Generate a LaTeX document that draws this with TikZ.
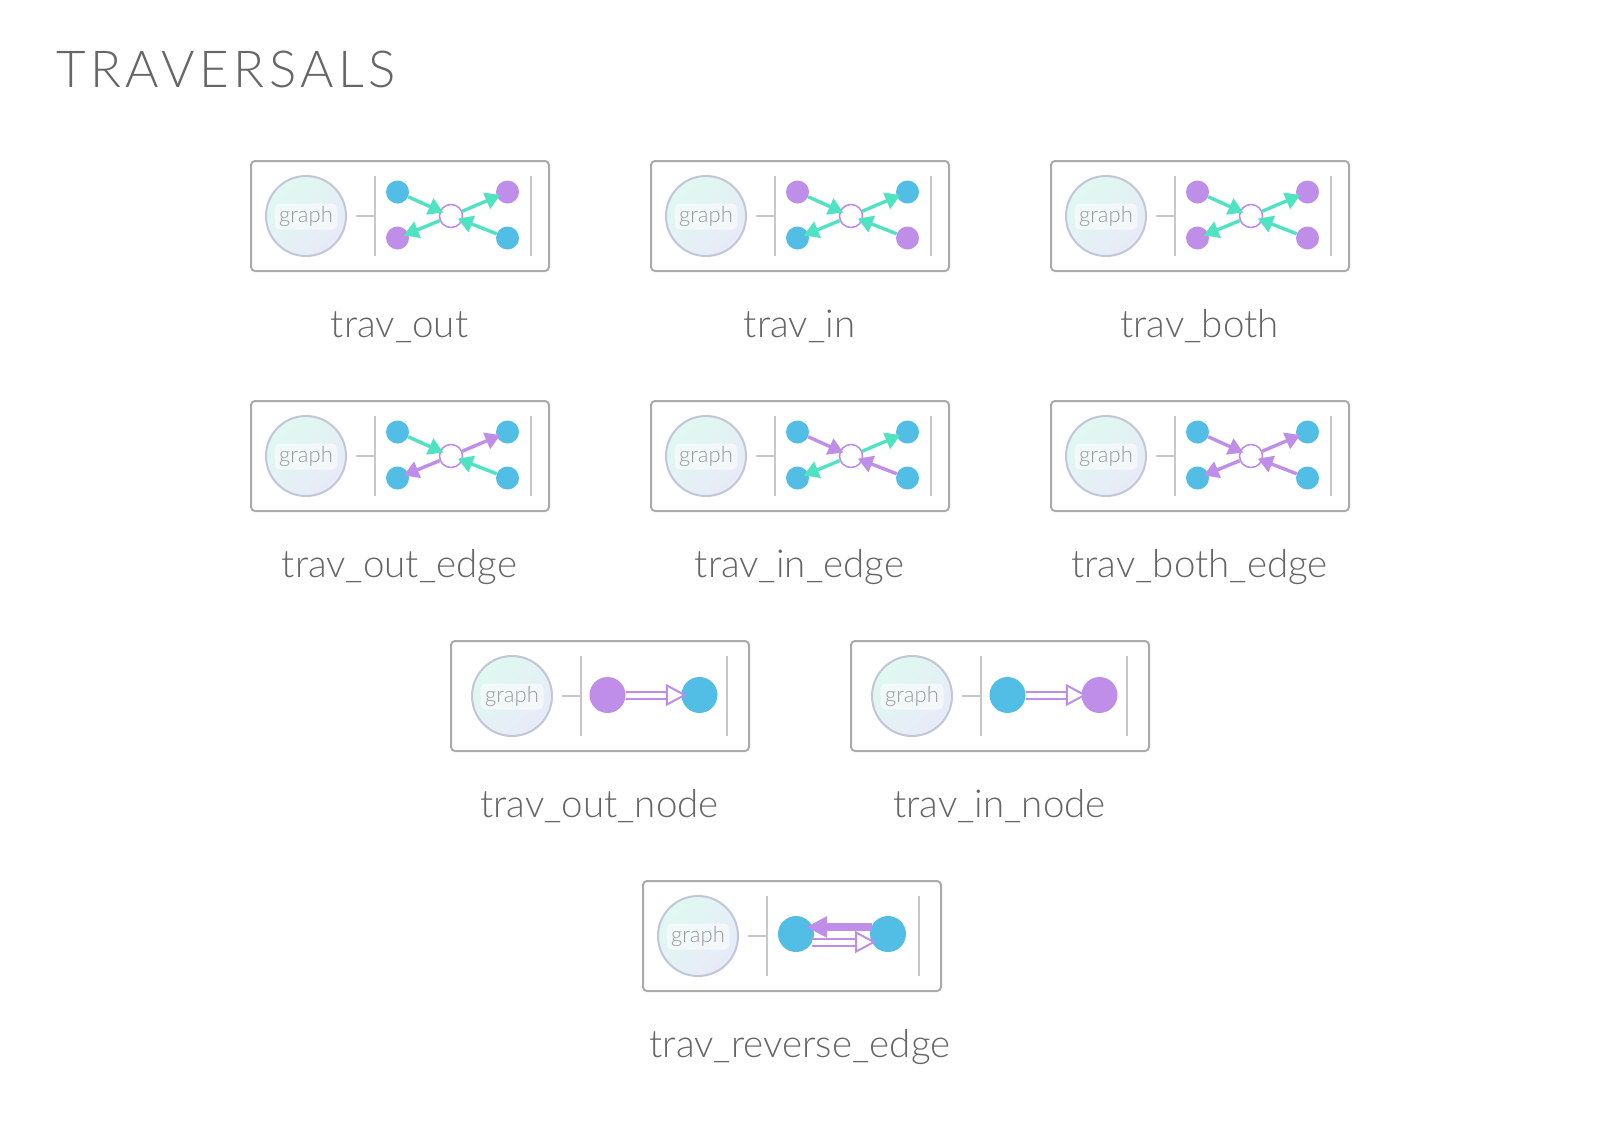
\documentclass[tikz,border=0pt]{standalone}
\usepackage{fontspec}
\setmainfont{Lato Light}
\newfontfamily\titlefont[LetterSpace=9]{Lato Light}
\usetikzlibrary{arrows.meta,calc}

\definecolor{travblue}{HTML}{52BEE5}
\definecolor{travviolet}{HTML}{BE8EE8}
\definecolor{travteal}{HTML}{50E3C2}
\definecolor{travtext}{HTML}{666666}
\definecolor{graphrim}{HTML}{C3C6D8}
\definecolor{graphmint}{HTML}{DFF9F0}
\definecolor{graphlav}{HTML}{E8EAF8}

\tikzset{
    panel/.style={draw=black!33, line width=2pt, rounded corners=4pt, minimum width=298pt, minimum height=110pt, inner sep=0pt, fill=white},
    bar/.style={draw=black!22, line width=2pt},
    graphball/.style={circle, draw=graphrim, line width=2pt, minimum size=80pt, inner sep=0pt, shade, top color=graphmint, bottom color=graphlav, shading angle=45},
    graphtag/.style={fill=white, fill opacity=0.55, text opacity=1, rounded corners=5pt, minimum width=63pt, minimum height=26pt, inner sep=0pt, text=black!40, font=\fontsize{22}{22}\selectfont},
    dot/.style={circle, fill=#1, minimum size=23pt, inner sep=0pt},
    bigdot/.style={circle, fill=#1, minimum size=36pt, inner sep=0pt},
    hub/.style={circle, draw=travviolet, fill=white, line width=1.6pt, minimum size=23pt, inner sep=0pt},
    edge/.style={draw=#1, line width=3.4pt, -{Triangle[length=15pt,width=17pt,fill=#1]}},
    hollow/.style={draw=travviolet, line width=2pt, double=white, double distance=5pt, -{Triangle[open,length=21pt,width=22pt,fill=white,line width=2pt]}},
    caption/.style={anchor=base, text=travtext, font=\fontsize{38.5}{38.5}\selectfont}
}

\begin{document}
\begin{tikzpicture}[x=1pt, y=-1pt]
\useasboundingbox (0,0) rectangle (1600,1120);

% Title
\node[anchor=base west, inner sep=0pt, text=travtext, font=\titlefont\fontsize{51}{51}\selectfont] (title) at (56,87) {TRAVERSALS};

% Panels with a crossing
\foreach \n/\px/\py/\nw/\ne/\sw/\se/\ea/\eb/\ec/\ed/\name in {
    a/251/161/travblue/travviolet/travviolet/travblue/travteal/travteal/travteal/travteal/trav\_out,
    b/651/161/travviolet/travblue/travblue/travviolet/travteal/travteal/travteal/travteal/trav\_in,
    c/1051/161/travviolet/travviolet/travviolet/travviolet/travteal/travteal/travteal/travteal/trav\_both,
    d/251/401/travblue/travblue/travblue/travblue/travteal/travviolet/travviolet/travteal/trav\_out\_edge,
    e/651/401/travblue/travblue/travblue/travblue/travviolet/travteal/travteal/travviolet/trav\_in\_edge,
    f/1051/401/travblue/travblue/travblue/travblue/travviolet/travviolet/travviolet/travviolet/trav\_both\_edge
} {
    \begin{scope}[shift={(\px,\py)}]
    \node[panel, anchor=north west] (\n box) at (-1,-1) {};
    \node[graphball] (\n ball) at (55,55) {};
    \node[graphtag] (\n tag) at (55,55.5) {graph};
    \draw[bar] (124,15) -- (124,95);
    \draw[bar] (280,15) -- (280,95);
    \draw[bar] (105,54.5) -- (124,54.5);
    \node[dot=\nw] (\n nw) at (146.5,31) {};
    \node[dot=\ne] (\n ne) at (256.5,31) {};
    \node[dot=\sw] (\n sw) at (146.5,77) {};
    \node[dot=\se] (\n se) at (256.5,77) {};
    \node[hub] (\n hub) at (200,55) {};
    \draw[edge=\ea, shorten >=-4pt] (\n nw) -- (\n hub);
    \draw[edge=\eb, shorten >=-4pt] (\n hub) -- (\n ne);
    \draw[edge=\ec, shorten >=-5pt] (\n hub) -- (\n sw);
    \draw[edge=\ed, shorten >=-5pt] (\n se) -- (\n hub);
    \node[caption] (\n cap) at (148.5,176.5) {\name};
    \end{scope}
}

% Panels with one node step
\foreach \n/\px/\ca/\cb/\name in {
    g/451/travviolet/travblue/trav\_out\_node,
    h/851/travblue/travviolet/trav\_in\_node
} {
    \begin{scope}[shift={(\px,641)}]
    \node[panel, anchor=north west] (\n box) at (-1,-1) {};
    \node[graphball] (\n ball) at (61,55) {};
    \node[graphtag] (\n tag) at (61,55.5) {graph};
    \draw[bar] (129.5,15) -- (129.5,95);
    \draw[bar] (275.5,15) -- (275.5,95);
    \draw[bar] (111,54.5) -- (129.5,54.5);
    \node[bigdot=\ca] (\n l) at (156.5,54) {};
    \node[bigdot=\cb] (\n r) at (248.5,54) {};
    \draw[hollow, shorten >=-5.5pt] (\n l) -- (\n r);
    \node[caption] (\n cap) at (148.5,176.5) {\name};
    \end{scope}
}

% Reverse edge panel
\begin{scope}[shift={(643,881)}]
    \node[panel, anchor=north west] (i box) at (-1,-1) {};
    \node[graphball] (i ball) at (55,55) {};
    \node[graphtag] (i tag) at (55,55.5) {graph};
    \draw[bar] (124,15) -- (124,95);
    \draw[bar] (276,15) -- (276,95);
    \draw[bar] (105,54.5) -- (124,54.5);
    \node[bigdot=travblue] (i l) at (153,53) {};
    \node[bigdot=travblue] (i r) at (245,53) {};
    \draw[draw=travviolet, line width=8pt, shorten <=16pt, shorten >=10pt, -{Triangle[length=21pt,width=20pt,fill=travviolet]}] ([yshift=7pt]i r.center) -- ([yshift=7pt]i l.center);
    \draw[hollow, shorten <=16pt, shorten >=12pt] ([yshift=-8pt]i l.center) -- ([yshift=-8pt]i r.center);
    \node[caption] (i cap) at (157,176.5) {trav\_reverse\_edge};
\end{scope}

\end{tikzpicture}
\end{document}
